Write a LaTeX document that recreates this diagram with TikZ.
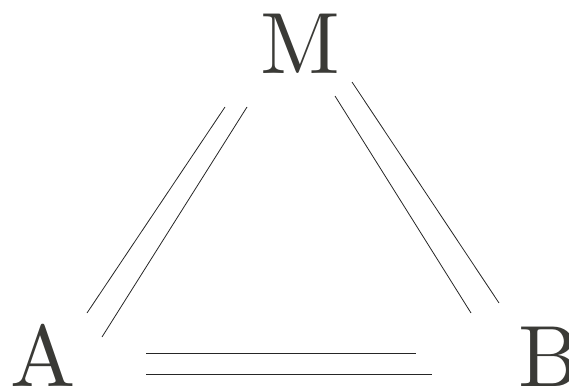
\documentclass[tikz,border=0pt]{standalone}
\usepackage{fontspec}
\newfontfamily\bigfont{lmroman10-regular}[Extension=.otf]
\definecolor{lettergray}{RGB}{58,58,54}
\begin{document}
\begin{tikzpicture}[x=1pt,y=-1pt,
  letter/.style={anchor=base,inner sep=0pt,text=lettergray,font=\bigfont\fontsize{87}{87}\selectfont},
  rule/.style={line width=0.8pt,black!85}]
\useasboundingbox (0,0) rectangle (569,387);
\node[letter] (M) at (300,74) {M};
\node[letter] (A) at (43,386) {A};
\node[letter] (B) at (549,386) {B};
% left pair (M--A)
\coordinate (l1s) at (225,107); \coordinate (l1e) at (87,313);
\coordinate (l2s) at (247,107); \coordinate (l2e) at (102,337);
% right pair (M--B)
\coordinate (r1s) at (335,96); \coordinate (r1e) at (471,313);
\coordinate (r2s) at (352,82); \coordinate (r2e) at (499,303);
% bottom pair (A--B)
\coordinate (b1s) at (146,353); \coordinate (b1e) at (416,353);
\coordinate (b2s) at (146,374); \coordinate (b2e) at (432,374);
\draw[rule] (l1s) -- (l1e);
\draw[rule] (l2s) -- (l2e);
\draw[rule] (r1s) -- (r1e);
\draw[rule] (r2s) -- (r2e);
\draw[rule] (b1s) -- (b1e);
\draw[rule] (b2s) -- (b2e);
\end{tikzpicture}
\end{document}
